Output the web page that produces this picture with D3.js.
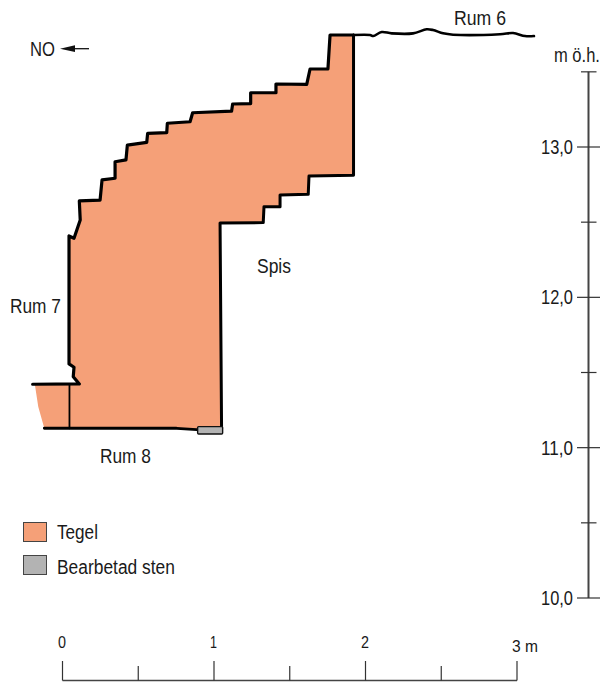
<!DOCTYPE html>
<html><head><meta charset="utf-8">
<script src="https://cdn.jsdelivr.net/npm/d3@7"></script>
<style>html,body{margin:0;padding:0;background:#fff}svg{display:block}text{font-family:"Liberation Sans",Arial,sans-serif;fill:#1a1a1a}</style>
</head><body><svg id="c" width="604" height="684"></svg>
<script>
// Section values: [distance in m, height in m above sea level]
const upperContour = [[1.921,13.745],[1.766,13.745],[1.752,13.519],[1.634,13.519],[1.612,13.417],[1.409,13.419],[1.409,13.361],[1.242,13.361],[1.242,13.289],[1.123,13.286],[1.116,13.238],[0.859,13.228],[0.842,13.168],[0.692,13.158],[0.688,13.095],[0.562,13.091],[0.556,13.031],[0.428,13.013],[0.419,12.914],[0.347,12.902],[0.347,12.792],[0.261,12.781],[0.248,12.647],[0.111,12.641],[0.117,12.514],[0.076,12.393],[0.043,12.408],[0.043,11.557],[0.076,11.535],[0.071,11.472],[0.111,11.424],[-0.197,11.422]];
const westEdge = [[-0.182,11.417],[-0.160,11.273],[-0.120,11.129]];
const floorLine = [[-0.120,11.129],[0.754,11.129],[0.886,11.120]];
const lowerContour = [[1.050,11.124],[1.040,12.495],[1.325,12.497],[1.330,12.603],[1.436,12.603],[1.436,12.681],[1.622,12.685],[1.627,12.807],[1.921,12.812],[1.921,13.745]];
const rum6Line = [[1.921,13.745],[2.030,13.745],[2.051,13.738],[2.107,13.765],[2.173,13.756],[2.314,13.756],[2.404,13.783],[2.446,13.778],[2.512,13.756],[2.578,13.747],[2.888,13.750],[2.974,13.758],[3.053,13.738],[3.112,13.738]];
const innerJoint = [[0.046,11.422],[0.046,11.129]];
const stoneX = [0.892,1.057];
const stoneH = [11.140,11.091];
const heightMajor = [10,11,12,13];
const heightMinor = [10.5,11.5,12.5,13.5];
const distMajor = [0,1,2,3];
const distMinor = [0.5,1.5,2.5];
const distLabels = ["0","1","2","3 m"];
const heightLabels = ["10,0","11,0","12,0","13,0"];
const legendNames = ["Tegel","Bearbetad sten"];
const legendColors = ["#f5a078","#b3b3b3"];

const svg = d3.select("#c");
const x = d3.scaleLinear().domain([0,3]).range([62.5,517]);
const y = d3.scaleLinear().domain([10,13]).range([598,147]);
const line = d3.line().x(d=>x(d[0])).y(d=>y(d[1]));
const smooth = d3.line().x(d=>x(d[0])).y(d=>y(d[1])).curve(d3.curveCatmullRom);

// fill
svg.append("path").attr("d", line([...upperContour.slice(0,-1),...westEdge,...floorLine,...lowerContour])+"Z").attr("fill",legendColors[0]);

const ink = (data,w,gen=line)=>svg.append("path").attr("d",gen(data)).attr("fill","none").attr("stroke","#000").attr("stroke-width",w).attr("stroke-linejoin","round").attr("stroke-linecap","round");
ink(upperContour,3.2);
ink(floorLine,2.8);
ink(lowerContour,3);
ink(rum6Line,2.6,smooth);
ink(innerJoint,1.8);

// worked stone
svg.append("rect").attr("x",x(stoneX[0])).attr("y",y(stoneH[0])).attr("width",x(stoneX[1])-x(stoneX[0])).attr("height",y(stoneH[1])-y(stoneH[0])).attr("rx",1).attr("fill",legendColors[1]).attr("stroke","#111").attr("stroke-width",1.4);

// height scale
const hAxis = d3.scaleLinear().domain([10,13]).range([598,147]);
const hG = svg.append("g").attr("transform","translate(588.5,0)");
hG.append("line").attr("y1",hAxis(13.5)).attr("y2",hAxis(10)).attr("stroke","#444").attr("stroke-width",2);
hG.selectAll("line.maj").data(heightMajor).join("line").attr("class","maj").attr("x1",-11.5).attr("x2",11.5).attr("y1",hAxis).attr("y2",hAxis).attr("stroke","#333").attr("stroke-width",1.2);
hG.selectAll("line.min").data(heightMinor).join("line").attr("class","min").attr("x1",-7.5).attr("x2",8).attr("y1",hAxis).attr("y2",hAxis).attr("stroke","#333").attr("stroke-width",1.2);

// distance scale
const base = 680.5;
const dG = svg.append("g");
dG.append("line").attr("x1",x(0)).attr("x2",x(3)).attr("y1",base).attr("y2",base).attr("stroke","#444").attr("stroke-width",1.4);
dG.selectAll("line.maj").data(distMajor).join("line").attr("class","maj").attr("x1",x).attr("x2",x).attr("y1",661).attr("y2",base).attr("stroke","#333").attr("stroke-width",1.2);
dG.selectAll("line.min").data(distMinor).join("line").attr("class","min").attr("x1",x).attr("x2",x).attr("y1",666).attr("y2",base).attr("stroke","#333").attr("stroke-width",1.2);

// narrow type: measured text is squeezed horizontally to the reference width
function label(t,xx,yy,w,size=20){
  const el = svg.append("text").attr("font-size",size).text(t);
  const len = el.node().getComputedTextLength();
  return el.attr("transform",`translate(${xx},${yy}) scale(${w/len},1)`);
}
label("Rum 6",454,25,52);
label("NO",30,55.5,25);
label("Rum 7",10,313,51);
label("Spis",257,273,34);
label("Rum 8",100,463,51);
label("m ö.h.",554,62,46);
heightMajor.forEach((v,i)=>label(heightLabels[i],541,hAxis(v)+7,32));
label(distLabels[0],58,648,8,17);
label(distLabels[1],210,648,7,17);
label(distLabels[2],361,648,8,17);
label(distLabels[3],512,652,26,17);

// legend
legendNames.forEach((n,i)=>{
  const ly = [522.5,555.5][i];
  svg.append("rect").attr("x",23.5).attr("y",ly).attr("width",23).attr("height",19).attr("fill",legendColors[i]).attr("stroke","#444").attr("stroke-width",1);
  label(n,57,[539,574][i],[41,118][i]);
});

// north arrow
svg.append("line").attr("x1",72).attr("x2",89).attr("y1",48.7).attr("y2",48.7).attr("stroke","#111").attr("stroke-width",1.3);
svg.append("path").attr("d",d3.line()([[60,48.7],[75,45.3],[75,52]])+"Z").attr("fill","#111");
</script></body></html>
